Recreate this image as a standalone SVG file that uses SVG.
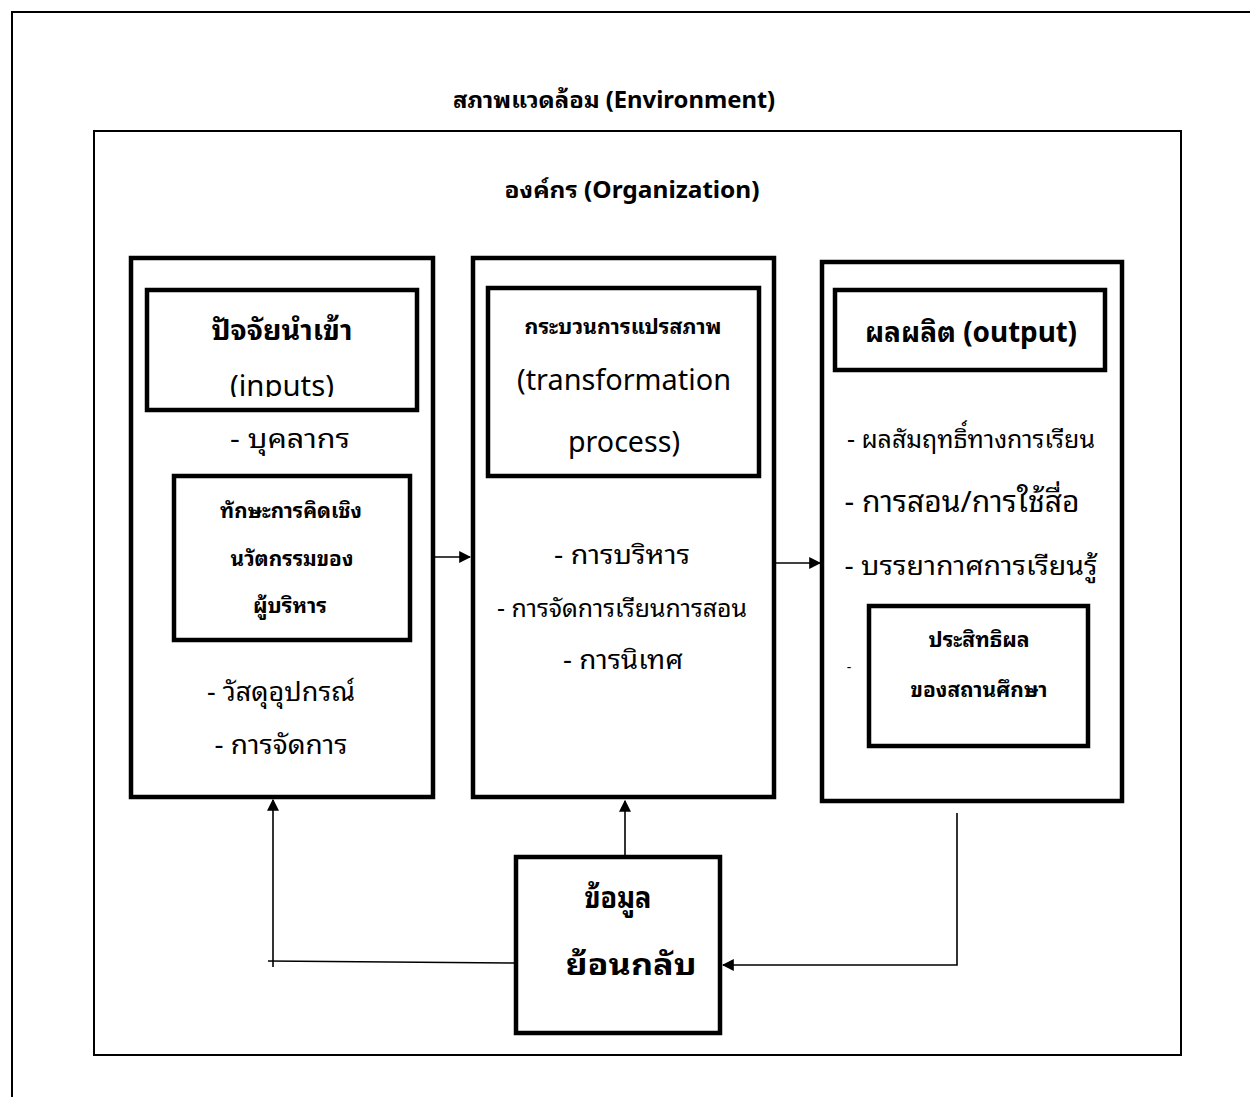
<svg xmlns="http://www.w3.org/2000/svg" width="1250" height="1097" viewBox="0 0 1250 1097">
<defs>
<marker id="ah" viewBox="0 0 10 10" refX="9" refY="5" markerWidth="12" markerHeight="12" markerUnits="userSpaceOnUse" orient="auto"><path d="M0,0 L10,5 L0,10 Z" fill="#000"/></marker>
<clipPath id="clipInputs"><rect x="147" y="290" width="270" height="107"/></clipPath>
<style>
text{font-family:"Noto Sans Thai Looped","Noto Sans","Noto Sans Thai","Open Sans",sans-serif;fill:#000;text-anchor:middle}
.b{font-weight:bold}
.box{fill:#fff;stroke:#000;stroke-width:4.5}
.frame{fill:none;stroke:#000;stroke-width:2}
.ln{fill:none;stroke:#000;stroke-width:1.6}
</style>
</defs>
<rect width="1250" height="1097" fill="#fff"/>
<g id="environment">
<path class="frame" d="M12,1097 V12 H1250" stroke-width="2.5"/>
<text class="b" x="614" y="108" font-size="23" textLength="322" lengthAdjust="spacingAndGlyphs">สภาพแวดล้อม (Environment)</text>
</g>
<g id="organization">
<rect class="frame" x="94" y="131" width="1087" height="924"/>
<text class="b" x="632" y="198" font-size="23" textLength="255" lengthAdjust="spacingAndGlyphs">องค์กร (Organization)</text>
</g>
<g id="connectors">
<line class="ln" x1="433" y1="557" x2="470" y2="557" marker-end="url(#ah)"/>
<line class="ln" x1="774" y1="563" x2="820" y2="563" marker-end="url(#ah)"/>
<line class="ln" x1="625" y1="857" x2="625" y2="801" marker-end="url(#ah)"/>
<polyline class="ln" points="516,963 268,961"/>
<line class="ln" x1="273" y1="967" x2="273" y2="800" marker-end="url(#ah)"/>
<polyline class="ln" points="957,813 957,965 723,965" marker-end="url(#ah)"/>
</g>
<g id="inputs">
<rect class="box" x="131" y="258" width="302" height="539"/>
<rect class="box" x="147" y="290" width="270" height="120"/>
<text class="b" x="282" y="340" font-size="28" textLength="141" lengthAdjust="spacingAndGlyphs">ปัจจัยนำเข้า</text>
<text x="282" y="396" font-size="29" textLength="104" lengthAdjust="spacingAndGlyphs" clip-path="url(#clipInputs)">(inputs)</text>
<text x="290" y="448" font-size="27" textLength="120" lengthAdjust="spacingAndGlyphs">- บุคลากร</text>
<rect class="box" x="174" y="476" width="236" height="164"/>
<text class="b" x="291" y="518" font-size="20" textLength="142" lengthAdjust="spacingAndGlyphs">ทักษะการคิดเชิง</text>
<text class="b" x="292" y="566" font-size="20" textLength="123" lengthAdjust="spacingAndGlyphs">นวัตกรรมของ</text>
<text class="b" x="290" y="613" font-size="20" textLength="74" lengthAdjust="spacingAndGlyphs">ผู้บริหาร</text>
<text x="281" y="701" font-size="27" textLength="148" lengthAdjust="spacingAndGlyphs">- วัสดุอุปกรณ์</text>
<text x="281" y="754" font-size="27" textLength="133" lengthAdjust="spacingAndGlyphs">- การจัดการ</text>
</g>
<g id="transformation">
<rect class="box" x="473" y="258" width="301" height="539"/>
<rect class="box" x="488" y="288" width="271" height="188"/>
<text class="b" x="623" y="334" font-size="21" textLength="197" lengthAdjust="spacingAndGlyphs">กระบวนการแปรสภาพ</text>
<text x="624" y="390" font-size="29" textLength="214" lengthAdjust="spacingAndGlyphs">(transformation</text>
<text x="624" y="452" font-size="29" textLength="112" lengthAdjust="spacingAndGlyphs">process)</text>
<text x="622" y="564" font-size="27" textLength="136" lengthAdjust="spacingAndGlyphs">- การบริหาร</text>
<text x="622" y="617" font-size="25" textLength="250" lengthAdjust="spacingAndGlyphs">- การจัดการเรียนการสอน</text>
<text x="623" y="669" font-size="27" textLength="120" lengthAdjust="spacingAndGlyphs">- การนิเทศ</text>
</g>
<g id="output">
<rect class="box" x="822" y="262" width="300" height="539"/>
<rect class="box" x="835" y="290" width="270" height="80"/>
<text class="b" x="971" y="342" font-size="28" textLength="212" lengthAdjust="spacingAndGlyphs">ผลผลิต (output)</text>
<text x="971" y="448" font-size="25" textLength="248" lengthAdjust="spacingAndGlyphs">- ผลสัมฤทธิ์ทางการเรียน</text>
<text x="962" y="512" font-size="29" textLength="235" lengthAdjust="spacingAndGlyphs">-  การสอน/การใช้สื่อ</text>
<text x="971" y="575" font-size="27" textLength="253" lengthAdjust="spacingAndGlyphs">-  บรรยากาศการเรียนรู้</text>
<text x="849" y="672" font-size="14">-</text>
<rect class="box" x="869" y="606" width="219" height="140"/>
<text class="b" x="979" y="647" font-size="21" textLength="101" lengthAdjust="spacingAndGlyphs">ประสิทธิผล</text>
<text class="b" x="979" y="697" font-size="21" textLength="137" lengthAdjust="spacingAndGlyphs">ของสถานศึกษา</text>
</g>
<g id="feedback">
<rect class="box" x="516" y="857" width="204" height="176"/>
<text class="b" x="618" y="908" font-size="29" textLength="67" lengthAdjust="spacingAndGlyphs">ข้อมูล</text>
<text class="b" x="631" y="975" font-size="29" textLength="131" lengthAdjust="spacingAndGlyphs">ย้อนกลับ</text>
</g>
</svg>
